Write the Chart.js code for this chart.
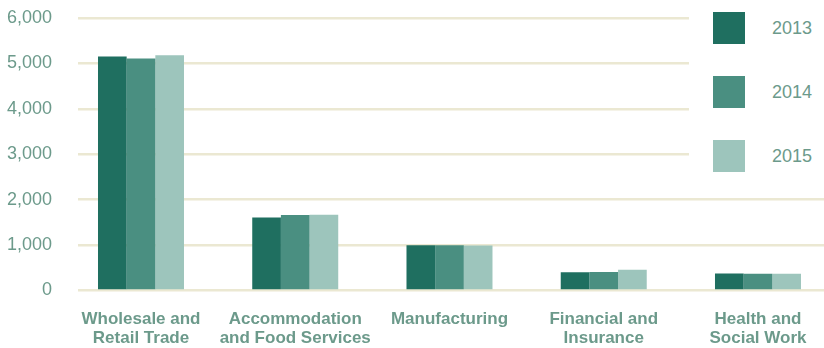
<!DOCTYPE html>
<html>
<head>
<meta charset="utf-8">
<script src="https://cdn.jsdelivr.net/npm/chart.js@4"></script>
<style>
  html, body { margin: 0; padding: 0; background: #ffffff; overflow: hidden; }
  #wrap { position: relative; width: 824px; height: 348px; }
  #legend {
    position: absolute; left: 689px; top: 0; width: 135px; height: 186px;
    background: #ffffff; font-family: "Liberation Sans", Arial, sans-serif;
  }
  .item { position: absolute; left: 24px; height: 32px; display: flex; align-items: center; }
  .swatch { width: 32px; height: 32px; }
  .label { margin-left: 27px; font-size: 18px; color: #6c9a8b; }
</style>
</head>
<body>
<div id="wrap">
  <canvas id="chart" width="824" height="348"></canvas>
  <div id="legend"></div>
</div>
<script>
// Industry categories (each entry is the lines of its axis label)
const categories = [
  ['Wholesale and', 'Retail Trade'],
  ['Accommodation', 'and Food Services'],
  ['Manufacturing'],
  ['Financial and', 'Insurance'],
  ['Health and', 'Social Work']
];
const years = ['2013', '2014', '2015'];
const values2013 = [5150, 1610, 995, 400, 375];
const values2014 = [5110, 1660, 995, 410, 370];
const values2015 = [5180, 1670, 990, 455, 370];
const yTicks = [0, 1000, 2000, 3000, 4000, 5000, 6000];

const colors = ['#1f6f60', '#4a8f81', '#9dc5bc'];
const textColor = '#6c9a8b';
const series = [values2013, values2014, values2015];

const datasets = series.map((vals, k) => ({
  label: years[k],
  data: vals.map((v, i) => ({ x: i, y: v })),
  backgroundColor: colors[k],
  borderWidth: 0
}));

// Keep the plot area exactly where the layout padding puts it
function noScalePadding(scale) {
  scale.paddingTop = 0; scale.paddingBottom = 0; scale.paddingLeft = 0; scale.paddingRight = 0;
}

new Chart(document.getElementById('chart'), {
  type: 'bar',
  data: { datasets },
  options: {
    responsive: false,
    animation: false,
    layout: { padding: { left: 7, right: 0, top: 18, bottom: 0 }, autoPadding: false },
    datasets: { bar: { categoryPercentage: 0.5575, barPercentage: 1.0 } },
    plugins: { legend: { display: false }, tooltip: { enabled: false } },
    scales: {
      x: {
        type: 'linear',
        offset: false,
        bounds: 'ticks',
        min: -0.4084,
        max: 4.428,
        grid: { display: false, drawTicks: false },
        border: { display: false },
        afterBuildTicks: (scale) => { scale.ticks = categories.map((_, i) => ({ value: i })); },
        afterFit: (scale) => { noScalePadding(scale); scale.height = 57.5; },
        ticks: {
          autoSkip: false,
          maxRotation: 0,
          padding: 19,
          color: textColor,
          font: { family: '"Liberation Sans", Arial, sans-serif', size: 17, weight: 'bold', lineHeight: 1.12 },
          callback: (v) => categories[v]
        }
      },
      y: {
        min: 0,
        max: 6000,
        afterBuildTicks: (scale) => { scale.ticks = yTicks.map(v => ({ value: v })); },
        afterFit: (scale) => { noScalePadding(scale); scale.width = 71; },
        grid: { color: '#ebe8d2', lineWidth: 2.6, drawTicks: false },
        border: { display: false },
        ticks: {
          padding: 26,
          color: textColor,
          font: { family: '"Liberation Sans", Arial, sans-serif', size: 18 },
          callback: (v) => v.toLocaleString('en-US')
        }
      }
    }
  }
});

// Legend column on the right
const legend = document.getElementById('legend');
years.forEach((y, k) => {
  const item = document.createElement('div');
  item.className = 'item';
  item.style.top = (12 + 64 * k) + 'px';
  const sw = document.createElement('div');
  sw.className = 'swatch';
  sw.style.background = colors[k];
  const lb = document.createElement('span');
  lb.className = 'label';
  lb.textContent = y;
  item.appendChild(sw);
  item.appendChild(lb);
  legend.appendChild(item);
});
</script>
</body>
</html>
